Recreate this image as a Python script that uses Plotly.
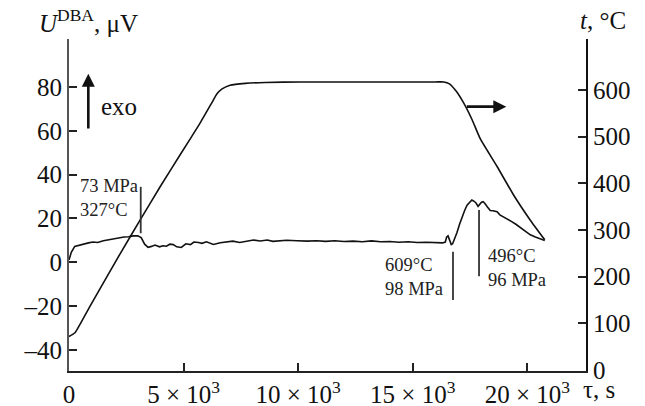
import plotly.graph_objects as go

# Temperature curve (right axis), tau in s, t in °C
tau_temp = [0, 260, 480, 920, 1350, 2230, 3100, 3970, 4850, 5720, 6250, 6450, 6680,
            7030, 7690, 8560, 10100, 12000, 14000, 16000, 16350, 16600, 16900, 17220,
            17590, 17950, 18680, 19400, 20130, 20760]
temp_c = [72, 80, 98, 137, 174, 249, 321, 392, 461, 529, 574, 591, 602,
          610, 614, 616, 617, 617, 617, 617, 617, 613, 597, 572,
          536, 495, 436, 375, 321, 279]

# DBA signal (left axis), µV
tau_dba = [0, 100, 250, 450, 650, 850, 1050, 1250, 1500, 1700, 1950, 2150, 2400, 2600,
           2800, 3000, 3150, 3300, 3450, 3600, 3750, 3950, 4100, 4250, 4400, 4550, 4700,
           4900, 5100, 5300, 5450, 5650, 5800, 6000, 6150, 6300, 6600, 6900, 7150, 7450,
           7750, 8050, 8350, 8650, 8900, 9200, 9500, 9950, 10400, 10800, 11200, 11600,
           12000, 12400, 12800, 13200, 13600, 14000, 14400, 14800, 15200, 15600, 16000,
           16300, 16420, 16480, 16540, 16600, 16680, 16740, 16850, 16930, 17050, 17150,
           17260, 17370, 17480, 17580, 17680, 17760, 17850, 17920, 18000, 18070, 18150,
           18250, 18380, 18500, 18680, 18800, 18950, 19110, 19300, 19500, 19700, 19900,
           20130, 20350, 20550, 20760]
u_dba = [1.0, 4.5, 7.2, 7.8, 8.5, 8.8, 9.2, 9.0, 9.8, 10.2, 10.8, 10.9, 11.5, 11.6,
         12.0, 12.0, 11.2, 8.2, 6.8, 7.2, 7.8, 7.0, 7.5, 7.3, 8.2, 8.0, 7.0,
         6.7, 8.4, 8.0, 9.2, 9.0, 8.6, 9.3, 8.6, 8.1, 8.9, 9.2, 9.6, 9.0,
         9.4, 10.1, 9.7, 10.1, 9.5, 9.8, 10.0, 9.8, 9.6, 9.8, 9.5, 9.8,
         9.4, 9.6, 9.3, 9.7, 9.3, 9.4, 9.1, 9.3, 9.0, 9.1, 8.9,
         8.8, 9.2, 11.5, 12.0, 10.0, 8.0, 8.4, 11.0, 13.5, 17.5, 20.8,
         23.5, 26.0, 27.5, 28.4, 27.8, 27.0, 25.5, 26.5, 27.4, 27.6, 26.8,
         25.3, 23.6, 23.5, 23.0, 21.6, 20.8, 19.6, 18.6, 17.3, 15.9, 14.5,
         12.5, 11.5, 10.7, 9.9]

x_tickvals = [0, 5000, 10000, 15000, 20000]
x_ticktext = ["0", "5 × 10<sup>3</sup>", "10 × 10<sup>3</sup>",
              "15 × 10<sup>3</sup>", "20 × 10<sup>3</sup>"]
y_tickvals = [-40, -20, 0, 20, 40, 60, 80]
y_ticktext = ["–40", "–20", "0", "20", "40", "60", "80"]
y2_tickvals = [0, 100, 200, 300, 400, 500, 600]

# marker lines: (tau, y0, y1) on left axis
marker_tau = [3130, 16756, 17892]
marker_y0 = [13.2, -17.3, -6.4]
marker_y1 = [34.4, 4.8, 23.8]

FONT = "Liberation Serif, Times New Roman, serif"
TICK = 25

fig = go.Figure()
fig.add_trace(go.Scatter(x=tau_dba, y=u_dba, mode="lines",
                         line=dict(color="#111", width=1.6), yaxis="y"))
fig.add_trace(go.Scatter(x=tau_temp, y=temp_c, mode="lines",
                         line=dict(color="#111", width=1.6, shape="spline", smoothing=0.5),
                         yaxis="y2"))

shapes = []
for tx, a, b in zip(marker_tau, marker_y0, marker_y1):
    shapes.append(dict(type="line", xref="x", yref="y", x0=tx, x1=tx, y0=a, y1=b,
                       line=dict(color="#333", width=1.8)))

ann = []
ann.append(dict(x=390, y=29.3, xref="x", yref="y", text="73 MPa<br>327°C",
                showarrow=False, xanchor="left", yanchor="middle", align="left",
                font=dict(size=18.5, family=FONT, color="#222")))
ann.append(dict(x=16420, y=-6.7, xref="x", yref="y", text="609°C<br>98 MPa",
                showarrow=False, xanchor="right", yanchor="middle", align="left",
                font=dict(size=18.5, family=FONT, color="#222")))
ann.append(dict(x=18210, y=-2.8, xref="x", yref="y", text="496°C<br>96 MPa",
                showarrow=False, xanchor="left", yanchor="middle", align="left",
                font=dict(size=18.5, family=FONT, color="#222")))
# exo arrow
ann.append(dict(x=843, y=86, xref="x", yref="y", ax=843, ay=60.3, axref="x", ayref="y",
                text="", showarrow=True, arrowhead=2, arrowsize=1.0, arrowwidth=2.6,
                arrowcolor="#111", standoff=0))
ann.append(dict(x=1300, y=71.3, xref="x", yref="y", text="exo", showarrow=False,
                xanchor="left", yanchor="middle",
                font=dict(size=25, family=FONT, color="#111")))
# right arrow
ann.append(dict(x=19084, y=71.0, xref="x", yref="y", ax=17293, ay=71.0, axref="x", ayref="y",
                text="", showarrow=True, arrowhead=2, arrowsize=1.0, arrowwidth=2.6,
                arrowcolor="#111", standoff=0))
# axis titles
ann.append(dict(x=-0.0625, y=1.055, xref="paper", yref="paper",
                text="<i>U</i><sup>DBA</sup>, μV", showarrow=False,
                xanchor="left", yanchor="middle",
                font=dict(size=25, family=FONT, color="#111")))
ann.append(dict(x=0.984, y=1.057, xref="paper", yref="paper",
                text="<i>t</i>, °C", showarrow=False, xanchor="left", yanchor="middle",
                font=dict(size=25, family=FONT, color="#111")))
ann.append(dict(x=0.99, y=-0.055, xref="paper", yref="paper",
                text="τ, s", showarrow=False, xanchor="left", yanchor="middle",
                font=dict(size=25, family=FONT, color="#111")))

# the page body adds an 8 px offset, so the figure is 8 px smaller and shifted margins
fig.update_layout(
    width=637, height=398,
    margin=dict(l=61, r=59, t=31, b=35),
    paper_bgcolor="white", plot_bgcolor="white",
    showlegend=False,
    font=dict(family=FONT, size=TICK, color="#111"),
    xaxis=dict(range=[0, 22560], showgrid=False, zeroline=False, automargin=False,
               showline=True, linecolor="#222", linewidth=2,
               ticks="inside", ticklen=8, tickwidth=2, tickcolor="#222",
               tickvals=x_tickvals, ticktext=x_ticktext,
               tickfont=dict(size=TICK, family=FONT, color="#111")),
    yaxis=dict(range=[-49.7, 101.9], showgrid=False, zeroline=False, automargin=False,
               showline=True, linecolor="#555", linewidth=2,
               ticks="inside", ticklen=8, tickwidth=2, tickcolor="#222",
               tickvals=y_tickvals, ticktext=y_ticktext,
               tickfont=dict(size=TICK, family=FONT, color="#111")),
    yaxis2=dict(range=[-2, 709], overlaying="y", side="right", showgrid=False,
                zeroline=False, showline=True, linecolor="#111", linewidth=2,
                automargin=False,
                ticks="inside", ticklen=8, tickwidth=2, tickcolor="#222",
                tickvals=y2_tickvals,
                tickfont=dict(size=TICK, family=FONT, color="#111")),
    shapes=shapes,
    annotations=ann,
)

fig.write_html("out.html")
